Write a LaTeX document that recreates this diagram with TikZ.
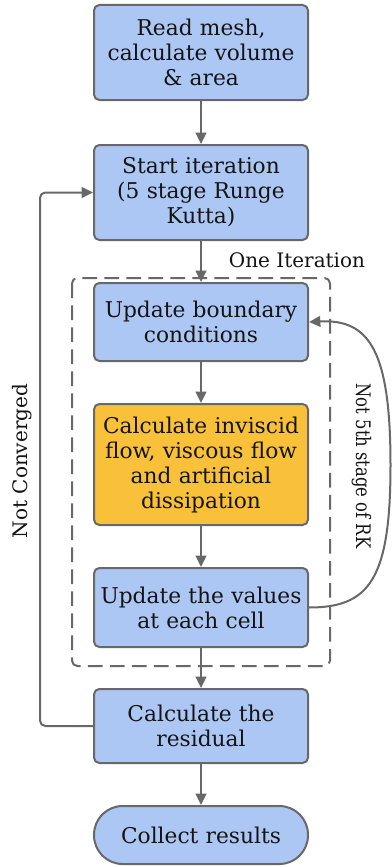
\documentclass[tikz,border=0pt]{standalone}
\usepackage{fontspec}
\setmainfont{DejaVu Serif}
\usetikzlibrary{arrows.meta}
\definecolor{boxblue}{RGB}{173,199,245}
\definecolor{boxorange}{RGB}{249,193,58}
\definecolor{edgegray}{RGB}{104,104,104}
\definecolor{inkblack}{RGB}{20,20,20}
\tikzset{
  flowbox/.style={rectangle, rounded corners=4pt, draw=edgegray, line width=1.5pt,
    fill=boxblue, minimum width=160.5pt, text width=158pt, align=center, inner sep=0pt,
    text=inkblack, font=\fontsize{16.3pt}{18.75pt}\selectfont},
  hotbox/.style={flowbox, fill=boxorange},
  endbox/.style={flowbox, rounded corners=21.5pt},
  flowarrow/.style={draw=edgegray, line width=1.5pt, -{Triangle[length=8.5pt,width=8pt]}},
  frame/.style={draw=edgegray, line width=1.5pt, dash pattern=on 11pt off 5.5pt, rounded corners=4pt},
  tag/.style={font=\fontsize{15pt}{17pt}\selectfont, inner sep=0pt, text=inkblack}
}
\begin{document}
\begin{tikzpicture}[x=0.75pt, y=-0.75pt]
\useasboundingbox (0,0) rectangle (392,867);

% dashed frame around one iteration
\draw[frame] (72,278) rectangle (330,666);
\node[tag] (iter) at (297,260) {One Iteration};

% process steps
\node[flowbox, minimum height=71.25pt] (read) at (201,52.5) {Read mesh,\\calculate volume\\\& area};
\node[flowbox, minimum height=71.25pt] (start) at (201,192.5) {Start iteration\\(5 stage Runge\\Kutta)};
\node[flowbox, minimum height=58.5pt] (bound) at (201,322) {Update boundary\\conditions};
\node[hotbox, minimum height=90.75pt] (flux) at (201,464.5) {Calculate inviscid\\flow, viscous flow\\and artificial\\dissipation};
\node[flowbox, minimum height=59.25pt] (cell) at (201,607.5) {Update the values\\at each cell};
\node[flowbox, minimum height=55.5pt] (resid) at (201,726) {Calculate the\\residual};
\node[endbox, minimum height=43.5pt] (done) at (201,835) {Collect results};

% main flow
\draw[flowarrow] (read) -- (start);
\draw[flowarrow] (start) -- (bound);
\draw[flowarrow] (bound) -- (flux);
\draw[flowarrow] (flux) -- (cell);
\draw[flowarrow] (cell) -- (resid);
\draw[flowarrow] (resid) -- (done);

% convergence loop
\draw[flowarrow, rounded corners=4pt] (resid.west) -- ++(-53,0) |- (start.west);
\node[tag, rotate=90] (notconv) at (22,461) {Not Converged};

% Runge-Kutta stage loop bulging to the right
\coordinate (rkturn) at (390.5,465);
\draw[flowarrow] (cell.east) .. controls +(60,0) and +(0,115) .. (rkturn)
  .. controls +(0,-115) and +(60,-3) .. (bound.east);
\node[tag, rotate=-90] (notfifth) at (361.5,466)
  {\scalebox{0.82}[1]{Not 5th stage of RK}};
\end{tikzpicture}
\end{document}
